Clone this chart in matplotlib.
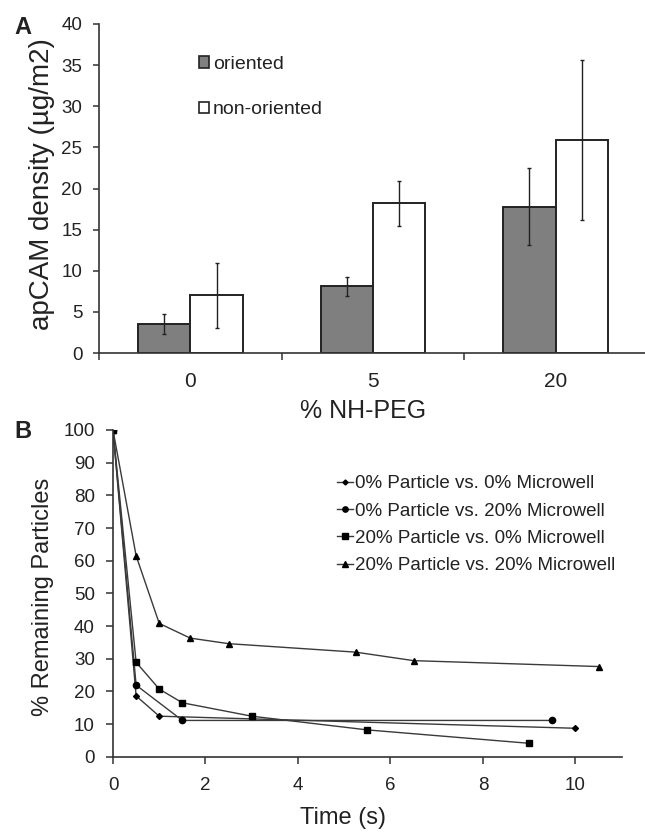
import matplotlib
matplotlib.use("Agg")
import matplotlib.pyplot as plt
import numpy as np
from matplotlib.patches import Patch

plt.rcParams['font.family'] = ['Liberation Sans', 'DejaVu Sans']

# ---- Panel A data ----
categories = ["0", "5", "20"]
oriented = [3.5, 8.1, 17.8]
oriented_err = [1.2, 1.15, 4.65]
non_oriented = [7.0, 18.2, 25.9]
non_oriented_err = [3.9, 2.7, 9.7]
yticks_a = [0, 5, 10, 15, 20, 25, 30, 35, 40]

# ---- Panel B data ----
t_00 = [0, 0.5, 1.0, 10.0]
v_00 = [100, 18.6, 12.4, 8.7]
t_020 = [0, 0.5, 1.5, 9.5]
v_020 = [100, 21.9, 11.1, 11.1]
t_200 = [0, 0.5, 1.0, 1.5, 3.0, 5.5, 9.0]
v_200 = [100, 28.9, 20.7, 16.5, 12.4, 8.2, 4.1]
t_2020 = [0, 0.5, 1.0, 1.67, 2.5, 5.25, 6.5, 10.5]
v_2020 = [100, 61.5, 40.8, 36.3, 34.6, 32.0, 29.4, 27.6]
xticks_b = [0, 2, 4, 6, 8, 10]
yticks_b = [0, 10, 20, 30, 40, 50, 60, 70, 80, 90, 100]

W, H = 645, 832
fig = plt.figure(figsize=(W / 100, H / 100), dpi=100)
ink = '#222222'
axc = '#333333'

# ---------- Panel A ----------
axA = fig.add_axes([99 / W, 1 - 353 / H, 548 / W, (353 - 24) / H])
x = np.arange(len(categories))
bw = 0.287
axA.bar(x - bw / 2, oriented, bw, color='#7f7f7f', edgecolor=ink, linewidth=1.4, zorder=2)
axA.bar(x + bw / 2, non_oriented, bw, color='white', edgecolor=ink, linewidth=1.4, zorder=2)
axA.errorbar(x - bw / 2, oriented, yerr=oriented_err, fmt='none', ecolor=ink,
             elinewidth=1.0, capsize=1.6, capthick=1.0, zorder=3)
axA.errorbar(x + bw / 2, non_oriented, yerr=non_oriented_err, fmt='none', ecolor=ink,
             elinewidth=1.0, capsize=1.6, capthick=1.0, zorder=3)
axA.set_xlim(-0.5, 2.5)
axA.set_ylim(0, 40)
axA.set_yticks(yticks_a)
axA.set_xticks(x)
axA.set_xticklabels(categories)
axA.set_xticks([-0.5, 0.5, 1.5, 2.5], minor=True)
axA.tick_params(axis='x', which='major', length=0, pad=13.5, labelsize=15, labelcolor=ink)
axA.tick_params(axis='x', which='minor', length=5, width=1.1, color=axc, direction='out')
axA.tick_params(axis='y', length=4, width=1.1, color=axc, direction='out', pad=8,
                labelsize=13.5, labelcolor=ink)
for s in ['top', 'right']:
    axA.spines[s].set_visible(False)
for s in ['left', 'bottom']:
    axA.spines[s].set_color(axc)
    axA.spines[s].set_linewidth(1.2)
axA.set_ylabel("apCAM density (µg/m2)", fontsize=20, color=ink)
axA.yaxis.set_label_coords(-0.08, 0.515)

handlesA = [Patch(facecolor='#7f7f7f', edgecolor=ink, linewidth=1.2),
            Patch(facecolor='white', edgecolor=ink, linewidth=1.2)]
legA = fig.legend(handlesA, ['oriented', 'non-oriented'], loc='upper left',
                  bbox_to_anchor=(199 / W, 1 - 56 / H), bbox_transform=fig.transFigure,
                  frameon=False, fontsize=14, handlelength=0.52, handleheight=0.52,
                  handletextpad=0.2, labelspacing=1.46, borderpad=0, borderaxespad=0)
for tx in legA.get_texts():
    tx.set_color(ink)

fig.text(363 / W, 1 - 411 / H, "% NH-PEG", fontsize=18, ha='center', va='center', color=ink)
fig.text(23 / W, 1 - 27 / H, "A", fontsize=17, fontweight='bold', ha='center', va='center', color=ink)

# ---------- Panel B ----------
axB = fig.add_axes([113 / W, 1 - 756.7 / H, 508.7 / W, (756.7 - 430) / H])
lc = '#3a3a3a'
axB.plot(t_00, v_00, color=lc, lw=1.0, marker='D', ms=3.0, mfc='black', mec='black',
         label='0% Particle vs. 0% Microwell')
axB.plot(t_020, v_020, color=lc, lw=1.0, marker='o', ms=4.5, mfc='black', mec='black',
         label='0% Particle vs. 20% Microwell')
axB.plot(t_200, v_200, color=lc, lw=1.0, marker='s', ms=4.4, mfc='black', mec='black',
         label='20% Particle vs. 0% Microwell')
axB.plot(t_2020, v_2020, color=lc, lw=1.0, marker='^', ms=4.5, mfc='black', mec='black',
         label='20% Particle vs. 20% Microwell')
axB.set_xlim(0, 11)
axB.set_ylim(0, 100)
axB.set_xticks(xticks_b)
axB.set_yticks(yticks_b)
axB.tick_params(axis='x', length=5, width=1.1, color=axc, direction='out', pad=9.5,
                labelsize=13.5, labelcolor=ink)
axB.tick_params(axis='y', length=5, width=1.1, color=axc, direction='out', pad=8,
                labelsize=13.5, labelcolor=ink)
for s in ['top', 'right']:
    axB.spines[s].set_visible(False)
for s in ['left', 'bottom']:
    axB.spines[s].set_color(axc)
    axB.spines[s].set_linewidth(1.2)
axB.set_ylabel("% Remaining Particles", fontsize=17, color=ink)
axB.yaxis.set_label_coords(-0.116, 0.489)

legB = axB.legend(loc='upper left', bbox_to_anchor=(337 / W, 1 - 475 / H),
                  bbox_transform=fig.transFigure, frameon=False, fontsize=13.5,
                  handlelength=0.85, handletextpad=0.1, labelspacing=0.55,
                  borderpad=0, borderaxespad=0, markerscale=0.85)
for tx in legB.get_texts():
    tx.set_color(ink)

fig.text(343 / W, 1 - 818 / H, "Time (s)", fontsize=17, ha='center', va='center', color=ink)
fig.text(23 / W, 1 - 431 / H, "B", fontsize=17, fontweight='bold', ha='center', va='center', color=ink)

fig.savefig("out.png", dpi=100)
